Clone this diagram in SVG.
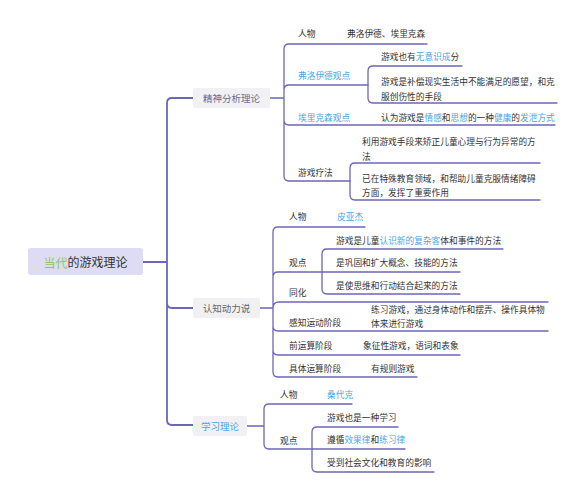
<svg xmlns="http://www.w3.org/2000/svg" width="585" height="500" viewBox="0 0 585 500">
<style>
text{font-family:"Noto Sans CJK SC","Noto Sans",sans-serif;dominant-baseline:central;fill:#333}
.t{font-size:8.7px}
.b{fill:#4ea4e2}
.g{fill:#8cc665}
.m{fill:none;stroke:#6d65b8;stroke-width:1.8;stroke-linecap:round}
.s{fill:none;stroke:#6d65b8;stroke-width:1.3;stroke-linecap:round}
.bx{fill:#f1f1f4}
.bt{font-size:9.5px}
</style>
<rect width="585" height="500" fill="#fff"/>
<g id="connectors">
<path class="m" d="M143,262 H167 M167,262 V103 Q167,98 172,98 H193 M167,262 V303 Q167,308 172,308 H193 M167,262 V420 Q167,425 172,425 H193"/>
<path class="s" d="M270,98 H284 M284,98 V49 Q284,44 289,44 H427 M284,98 V90 Q284,85 289,85 H368 M284,98 V120 Q284,125 289,125 H555 M284,98 V176 Q284,181 289,181 H350"/>
<path class="s" d="M368,85 V71 Q368,66 373,66 H462 M368,85 V98 Q368,103 373,103 H557"/>
<path class="s" d="M350,181 V168 Q350,163 355,163 H540 M350,181 V195 Q350,200 355,200 H540"/>
<path class="s" d="M260,308 H273 M273,308 V232 Q273,227 278,227 H365 M273,308 V277 Q273,272 278,272 H322 M273,308 Q273,302 279,302 H548 M273,308 V326 Q273,331 278,331 H548 M273,308 V350 Q273,355 278,355 H460 M273,308 V372 Q273,377 278,377 H417"/>
<path class="s" d="M322,272 V254 Q322,249 327,249 H503 M322,272 H460 M322,272 V289 Q322,294 327,294 H460"/>
<path class="s" d="M247,426 H264 M264,426 V409 Q264,404 269,404 H352 M264,426 V444 Q264,449 269,449 H312"/>
<path class="s" d="M312,449 V432 Q312,427 317,427 H398 M312,449 H405 M312,449 V467 Q312,472 317,472 H434"/>
</g>
<g id="root">
<rect x="28" y="248" width="115" height="27" rx="3" fill="#dddcf4"/>
<text x="85.5" y="261.5" text-anchor="middle" font-size="12px"><tspan class="g">当代</tspan>的游戏理论</text>
</g>
<g id="b1">
<rect class="bx" x="193" y="88" width="77" height="20" rx="2"/>
<text class="bt" x="231.5" y="98" text-anchor="middle" style="fill:#6c6990">精神分析理论</text>
</g>
<g id="b1-person"><text class="t" x="298" y="33">人物</text><text class="t" x="347" y="33">弗洛伊德、埃里克森</text></g>
<g id="b1-freud"><text class="t b" x="298" y="75">弗洛伊德观点</text></g>
<g id="b1-freud-1"><text class="t" x="381" y="56">游戏也有<tspan class="b">无意识成</tspan>分</text></g>
<g id="b1-freud-2"><text class="t" x="381" y="81">游戏是补偿现实生活中不能满足的愿望，和克</text><text class="t" x="381" y="96">服创伤性的手段</text></g>
<g id="b1-erik"><text class="t b" x="298" y="117">埃里克森观点</text></g>
<g id="b1-erik-1"><text class="t" x="381" y="117">认为游戏是<tspan class="b">情感</tspan>和<tspan class="b">思想</tspan>的一种<tspan class="b">健康</tspan>的<tspan class="b">发泄方式</tspan></text></g>
<g id="b1-therapy"><text class="t" x="298" y="172">游戏疗法</text></g>
<g id="b1-therapy-1"><text class="t" x="362" y="141">利用游戏手段来矫正儿童心理与行为异常的方</text><text class="t" x="362" y="156">法</text></g>
<g id="b1-therapy-2"><text class="t" x="362" y="178">已在特殊教育领域，和帮助儿童克服情绪障碍</text><text class="t" x="362" y="192">方面，发挥了重要作用</text></g>
<g id="b2">
<rect class="bx" x="193" y="298" width="67" height="20" rx="2"/>
<text class="bt" x="226.5" y="308" text-anchor="middle" style="fill:#666">认知动力说</text>
</g>
<g id="b2-person"><text class="t" x="289" y="216">人物</text><text class="t b" x="337" y="216">皮亚杰</text></g>
<g id="b2-view"><text class="t" x="289" y="262">观点</text></g>
<g id="b2-view-1"><text class="t" x="336" y="240">游戏是儿童<tspan class="b">认识新的复杂客</tspan>体和事件的方法</text></g>
<g id="b2-view-2"><text class="t" x="336" y="262">是巩固和扩大概念、技能的方法</text></g>
<g id="b2-view-3"><text class="t" x="336" y="285">是使思维和行动结合起来的方法</text></g>
<g id="b2-assim"><text class="t" x="289" y="292">同化</text></g>
<g id="b2-sensor"><text class="t" x="289" y="322">感知运动阶段</text><text class="t" x="371" y="309">练习游戏，通过身体动作和摆弄、操作具体物</text><text class="t" x="371" y="323">体来进行游戏</text></g>
<g id="b2-preop"><text class="t" x="289" y="345">前运算阶段</text><text class="t" x="363" y="345">象征性游戏，语词和表象</text></g>
<g id="b2-concrete"><text class="t" x="289" y="368">具体运算阶段</text><text class="t" x="371" y="368">有规则游戏</text></g>
<g id="b3">
<rect class="bx" x="193" y="416" width="54" height="20" rx="2"/>
<text class="bt b" x="220" y="426" text-anchor="middle">学习理论</text>
</g>
<g id="b3-person"><text class="t" x="280" y="394">人物</text><text class="t b" x="327" y="394">桑代克</text></g>
<g id="b3-view"><text class="t" x="280" y="440">观点</text></g>
<g id="b3-view-1"><text class="t" x="327" y="417">游戏也是一种学习</text></g>
<g id="b3-view-2"><text class="t" x="327" y="439">遵循<tspan class="b">效果律</tspan>和<tspan class="b">练习律</tspan></text></g>
<g id="b3-view-3"><text class="t" x="327" y="462">受到社会文化和教育的影响</text></g>
</svg>
